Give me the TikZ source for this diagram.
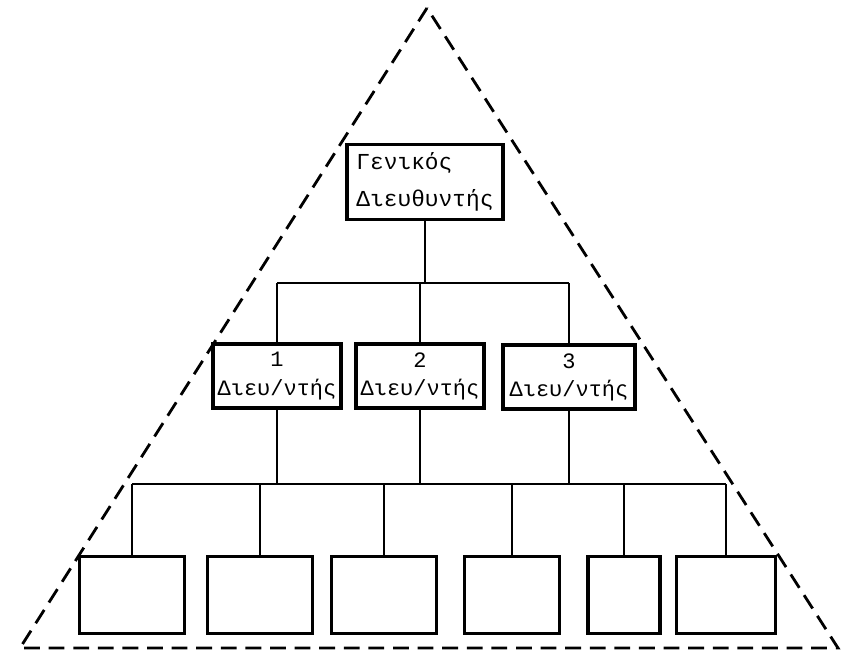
\documentclass[tikz,border=0pt]{standalone}
\usepackage{fontspec}
\newfontfamily\grfont{Liberation Mono}
\usetikzlibrary{positioning}
\tikzstyle{chief} = [rectangle, draw=black, line width=2pt, minimum width=3.12cm, minimum height=1.5cm, inner sep=2pt, align=left, font=\grfont\fontsize{13}{21}\selectfont]
\tikzstyle{dept} = [rectangle, draw=black, line width=2pt, minimum width=2.56cm, minimum height=1.28cm, inner sep=1pt, align=center, font=\grfont\fontsize{12.5}{16}\selectfont]
\tikzstyle{unit} = [rectangle, draw=black, line width=2pt, minimum height=1.54cm]
\tikzstyle{link} = [line width=1.5pt]
\tikzstyle{edge} = [line width=1.6pt, dash pattern=on 9pt off 5pt]

\begin{document}
\begin{tikzpicture}[x=0.02cm, y=-0.02cm]
	\useasboundingbox (0,0) rectangle (850,656);
	\coordinate (apex) at (427,8);
	\coordinate (bl) at (20,648);
	\coordinate (br) at (838,648);
	\coordinate (up) at (0,283);
	\coordinate (low) at (0,484);
	\node (gm) [chief] at (425,182) {Γενικός\\Διευθυντής};
	\node (m1) [dept] at (277,376) {1\\Διευ/ντής};
	\node (m2) [dept] at (420,376) {2\\Διευ/ντής};
	\node (m3) [dept, minimum width=2.64cm] at (569,377) {3\\Διευ/ντής};
	\node (b1) [unit, minimum width=2.1cm] at (132,595) {};
	\node (b2) [unit, minimum width=2.1cm] at (260,595) {};
	\node (b3) [unit, minimum width=2.1cm] at (384,595) {};
	\node (b4) [unit, minimum width=1.9cm] at (512,595) {};
	\node (b5) [unit, minimum width=1.44cm] at (624,595) {};
	\node (b6) [unit, minimum width=1.98cm] at (726,595) {};
	% triangle
	\draw [edge] (apex) -- (bl) -- (br) -- cycle;
	% upper level
	\draw [link] (gm.south) -- (gm.south |- up);
	\draw [link] (m1.north |- up) -- (m3.north |- up);
	\draw [link] (m1.north) -- (m1.north |- up);
	\draw [link] (m2.north) -- (m2.north |- up);
	\draw [link] (m3.north) -- (m3.north |- up);
	% lower level
	\draw [link] (m1.south) -- (m1.south |- low);
	\draw [link] (m2.south) -- (m2.south |- low);
	\draw [link] (m3.south) -- (m3.south |- low);
	\draw [link] (b1.north |- low) -- (b6.north |- low);
	\draw [link] (b1.north) -- (b1.north |- low);
	\draw [link] (b2.north) -- (b2.north |- low);
	\draw [link] (b3.north) -- (b3.north |- low);
	\draw [link] (b4.north) -- (b4.north |- low);
	\draw [link] (b5.north) -- (b5.north |- low);
	\draw [link] (b6.north) -- (b6.north |- low);
\end{tikzpicture}
\end{document}
